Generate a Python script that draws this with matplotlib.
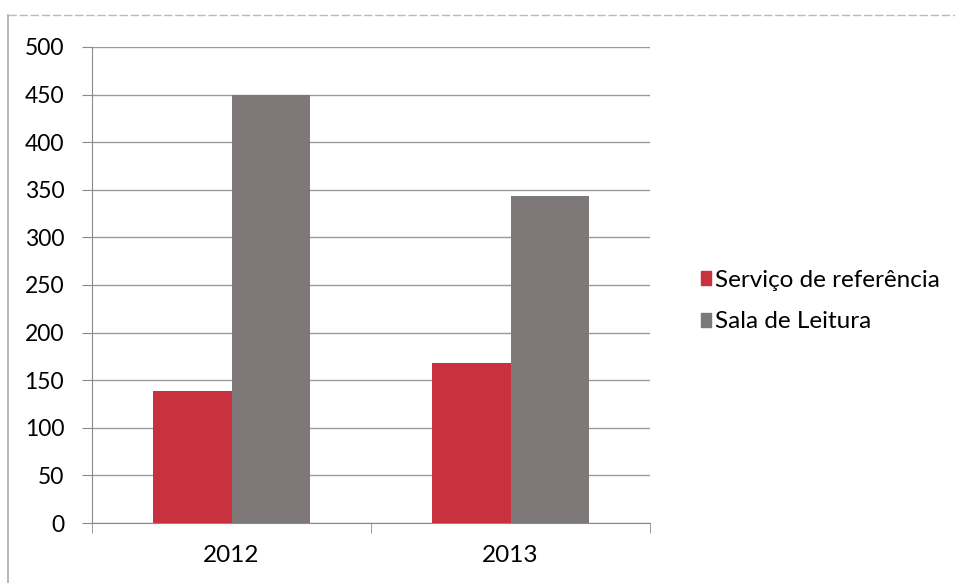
import matplotlib
matplotlib.use("Agg")
import matplotlib.pyplot as plt
from matplotlib.lines import Line2D
import numpy as np

plt.rcParams['font.family'] = ['Lato', 'DejaVu Sans']

years = ["2012", "2013"]
servico = [139, 168]
sala = [450, 343]
series_names = ["Serviço de referência", "Sala de Leitura"]
colors = ["#C8323F", "#7E7878"]

fig = plt.figure(figsize=(9.55, 5.83), dpi=100)
ax = fig.add_axes([92/955, 1-523/583, (650-92)/955, (523-47)/583])

x = np.arange(len(years))
w = 0.283
ax.bar(x - w/2, servico, w, color=colors[0], zorder=3, label=series_names[0])
ax.bar(x + w/2, sala, w, color=colors[1], zorder=3, label=series_names[1])

ax.set_xlim(-0.5, 1.5)
ax.set_ylim(0, 500)
ax.set_yticks(np.arange(0, 501, 50))
ax.yaxis.grid(True, color="#9a9a9a", linewidth=1.0, zorder=0)
ax.set_axisbelow(True)
for s in ["top", "right"]:
    ax.spines[s].set_visible(False)
ax.spines["left"].set_color("#8a8a8a")
ax.spines["bottom"].set_color("#8a8a8a")
ax.set_xticks(x)
ax.set_xticklabels(years, fontsize=17.5)
ax.set_xticks([-0.5, 0.5, 1.5], minor=True)
ax.tick_params(axis="x", which="major", length=0, pad=16)
ax.tick_params(axis="x", which="minor", length=7, color="#8a8a8a")
ax.tick_params(axis="y", length=7, color="#8a8a8a", labelsize=16.5, pad=13)

handles = [plt.Rectangle((0, 0), 1, 1, color=c) for c in colors]
fig.legend(handles, series_names, loc="center left", bbox_to_anchor=(701/955, 1-301/583),
           frameon=False, fontsize=17.5, handlelength=0.42, handleheight=0.5,
           handletextpad=0.15, labelspacing=0.85, borderpad=0, borderaxespad=0)

# faint page border lines
fig.add_artist(Line2D([8/955, 8/955], [0, 1-15/583], color="#aaaaaa", lw=1.2))
fig.add_artist(Line2D([8/955, 1], [1-15/583, 1-15/583], color="#bbbbbb", lw=1, ls=(0, (6, 2))))

fig.savefig("out.png", dpi=100)
